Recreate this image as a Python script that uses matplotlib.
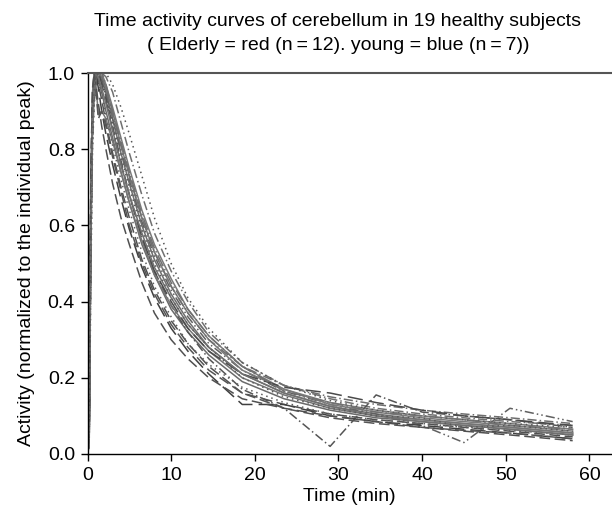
import matplotlib
matplotlib.use("Agg")
import matplotlib.pyplot as plt

plt.rcParams['font.family'] = ['Liberation Sans', 'DejaVu Sans']

times = [0, 0.2, 0.4, 0.6, 0.8, 1.0, 1.3, 1.7, 2.2, 3, 4, 5, 6.5, 8, 10, 12, 14.5,
         18.5, 23.5, 29, 34.5, 40, 45, 50.5, 58]

c01 = [0, 0.04, 0.62, 0.90, 0.96, 0.99, 1.0, 0.99, 0.95, 0.88, 0.79, 0.71, 0.60, 0.51, 0.42, 0.35, 0.28, 0.21, 0.16, 0.125, 0.105, 0.09, 0.08, 0.07, 0.055]
c02 = [0, 0.03, 0.55, 0.85, 0.95, 0.98, 1.0, 1.0, 0.97, 0.91, 0.83, 0.75, 0.64, 0.55, 0.46, 0.38, 0.31, 0.23, 0.17, 0.135, 0.115, 0.10, 0.09, 0.08, 0.065]
c03 = [0, 0.06, 0.70, 0.93, 0.99, 1.0, 0.98, 0.95, 0.90, 0.83, 0.74, 0.66, 0.55, 0.47, 0.38, 0.32, 0.26, 0.19, 0.145, 0.115, 0.095, 0.085, 0.075, 0.065, 0.05]
c04 = [0, 0.05, 0.66, 0.91, 0.97, 1.0, 0.97, 0.93, 0.87, 0.79, 0.70, 0.62, 0.51, 0.43, 0.35, 0.29, 0.23, 0.16, 0.13, 0.105, 0.09, 0.08, 0.07, 0.06, 0.045]
c05 = [0, 0.02, 0.50, 0.82, 0.93, 0.97, 1.0, 1.0, 0.99, 0.95, 0.87, 0.79, 0.68, 0.58, 0.48, 0.40, 0.32, 0.24, 0.18, 0.145, 0.12, 0.105, 0.095, 0.085, 0.075]
c06 = [0, 0.02, 0.45, 0.80, 0.92, 0.96, 0.99, 1.0, 1.0, 0.97, 0.91, 0.84, 0.73, 0.62, 0.50, 0.41, 0.33, 0.24, 0.18, 0.14, 0.115, 0.10, 0.09, 0.08, 0.07]
c07 = [0, 0.04, 0.60, 0.88, 0.95, 0.98, 1.0, 0.98, 0.94, 0.86, 0.77, 0.68, 0.57, 0.48, 0.39, 0.32, 0.25, 0.17, 0.12, 0.02, 0.155, 0.11, 0.10, 0.09, 0.07]
c08 = [0, 0.03, 0.58, 0.87, 0.95, 0.99, 1.0, 0.98, 0.95, 0.88, 0.80, 0.72, 0.61, 0.52, 0.43, 0.36, 0.29, 0.22, 0.165, 0.13, 0.105, 0.075, 0.03, 0.12, 0.085]
c09 = [0, 0.05, 0.68, 0.92, 0.98, 1.0, 0.96, 0.90, 0.84, 0.76, 0.67, 0.59, 0.49, 0.41, 0.33, 0.27, 0.21, 0.13, 0.13, 0.10, 0.085, 0.075, 0.065, 0.055, 0.04]
c10 = [0, 0.04, 0.60, 0.87, 0.96, 0.99, 1.0, 0.99, 0.96, 0.90, 0.81, 0.73, 0.62, 0.53, 0.44, 0.37, 0.30, 0.22, 0.17, 0.13, 0.11, 0.095, 0.085, 0.075, 0.06]
c11 = [0, 0.05, 0.70, 0.95, 1.0, 0.97, 0.89, 0.90, 0.88, 0.82, 0.74, 0.66, 0.56, 0.47, 0.39, 0.33, 0.27, 0.20, 0.155, 0.12, 0.10, 0.09, 0.08, 0.07, 0.055]
c12 = [0, 0.06, 0.72, 0.96, 1.0, 0.95, 0.88, 0.90, 0.86, 0.78, 0.69, 0.60, 0.50, 0.42, 0.34, 0.28, 0.22, 0.16, 0.12, 0.095, 0.08, 0.07, 0.062, 0.055, 0.04]
c13 = [0, 0.04, 0.65, 0.90, 0.97, 1.0, 0.98, 0.94, 0.89, 0.81, 0.72, 0.64, 0.53, 0.44, 0.36, 0.29, 0.235, 0.175, 0.135, 0.105, 0.09, 0.08, 0.07, 0.062, 0.05]
c14 = [0, 0.03, 0.55, 0.86, 0.95, 0.98, 1.0, 0.99, 0.96, 0.89, 0.81, 0.73, 0.62, 0.53, 0.44, 0.37, 0.30, 0.23, 0.18, 0.15, 0.13, 0.115, 0.105, 0.095, 0.08]
c15 = [0, 0.04, 0.60, 0.88, 0.96, 0.99, 1.0, 0.97, 0.93, 0.85, 0.76, 0.68, 0.57, 0.48, 0.40, 0.33, 0.27, 0.21, 0.175, 0.16, 0.135, 0.115, 0.10, 0.09, 0.075]
c16 = [0, 0.05, 0.64, 0.90, 0.97, 1.0, 0.99, 0.96, 0.92, 0.85, 0.76, 0.68, 0.58, 0.49, 0.41, 0.34, 0.28, 0.21, 0.16, 0.125, 0.10, 0.085, 0.075, 0.065, 0.05]
c17 = [0, 0.07, 0.75, 0.95, 1.0, 0.97, 0.92, 0.86, 0.80, 0.71, 0.62, 0.55, 0.45, 0.37, 0.30, 0.25, 0.20, 0.145, 0.12, 0.10, 0.085, 0.07, 0.06, 0.05, 0.035]
c18 = [0, 0.03, 0.57, 0.86, 0.95, 0.98, 1.0, 1.0, 0.97, 0.90, 0.82, 0.74, 0.63, 0.54, 0.45, 0.38, 0.31, 0.23, 0.165, 0.135, 0.11, 0.10, 0.09, 0.075, 0.065]
c19 = [0, 0.04, 0.60, 0.89, 0.96, 0.99, 1.0, 0.98, 0.94, 0.87, 0.78, 0.70, 0.59, 0.50, 0.41, 0.34, 0.28, 0.20, 0.15, 0.12, 0.10, 0.095, 0.07, 0.075, 0.06]

curves = [c01, c02, c03, c04, c05, c06, c07, c08, c09, c10,
          c11, c12, c13, c14, c15, c16, c17, c18, c19]

styles = ['-', '-', '-', (0, (7, 3)), (0, (6, 2, 1, 2)), (0, (1, 2.5)),
          (0, (6, 2, 1, 2)), (0, (6, 2, 1, 2, 1, 2)), (0, (10, 4)), '-',
          '-', (0, (7, 3)), (0, (1, 2.5)), (0, (6, 2, 1, 2)), (0, (10, 4)),
          '-', (0, (7, 3)), (0, (8, 2, 1, 2)), (0, (1, 2.5))]
colors = ['#6e6e6e', '#7a7a7a', '#6a6a6a', '#505050', '#707070', '#555555',
          '#555555', '#606060', '#404040', '#7a7a7a',
          '#757575', '#555555', '#606060', '#6e6e6e', '#4a4a4a',
          '#707070', '#505050', '#707070', '#5a5a5a']

fig = plt.figure(figsize=(6.12, 5.15), dpi=100)
ax = fig.add_axes([87.5 / 612, 61 / 515, 1 - 87.5 / 612, 381 / 515])

for y, ls, c in zip(curves, styles, colors):
    ax.plot(times, y, linestyle=ls, color=c, linewidth=1.1)

ax.set_xlim(0, 62.7)
ax.set_ylim(0, 1.0)
ax.set_xticks([0, 10, 20, 30, 40, 50, 60])
ax.set_yticks([0.0, 0.2, 0.4, 0.6, 0.8, 1.0])
ax.set_yticklabels(['0.0', '0.2', '0.4', '0.6', '0.8', '1.0'])
ax.tick_params(direction='out', length=5, width=1, labelsize=14, pad=4)
ax.spines['right'].set_visible(False)
ax.spines['top'].set_color('#555555')
ax.spines['top'].set_linewidth(1.5)
ax.spines['left'].set_linewidth(1.0)
ax.spines['bottom'].set_linewidth(1.0)

ax.set_xlabel('Time (min)', fontsize=14, labelpad=3)
ax.set_ylabel('Activity (normalized to the individual peak)', fontsize=14, labelpad=9)

fig.text(338 / 612, 1 - 22 / 515, 'Time activity curves of cerebellum in 19 healthy subjects',
         ha='center', va='center', fontsize=14)
fig.text(338 / 612, 1 - 45 / 515, '( Elderly = red (n\u2009=\u200912). young = blue (n\u2009=\u20097))',
         ha='center', va='center', fontsize=14)

fig.savefig('out.png', dpi=100)
